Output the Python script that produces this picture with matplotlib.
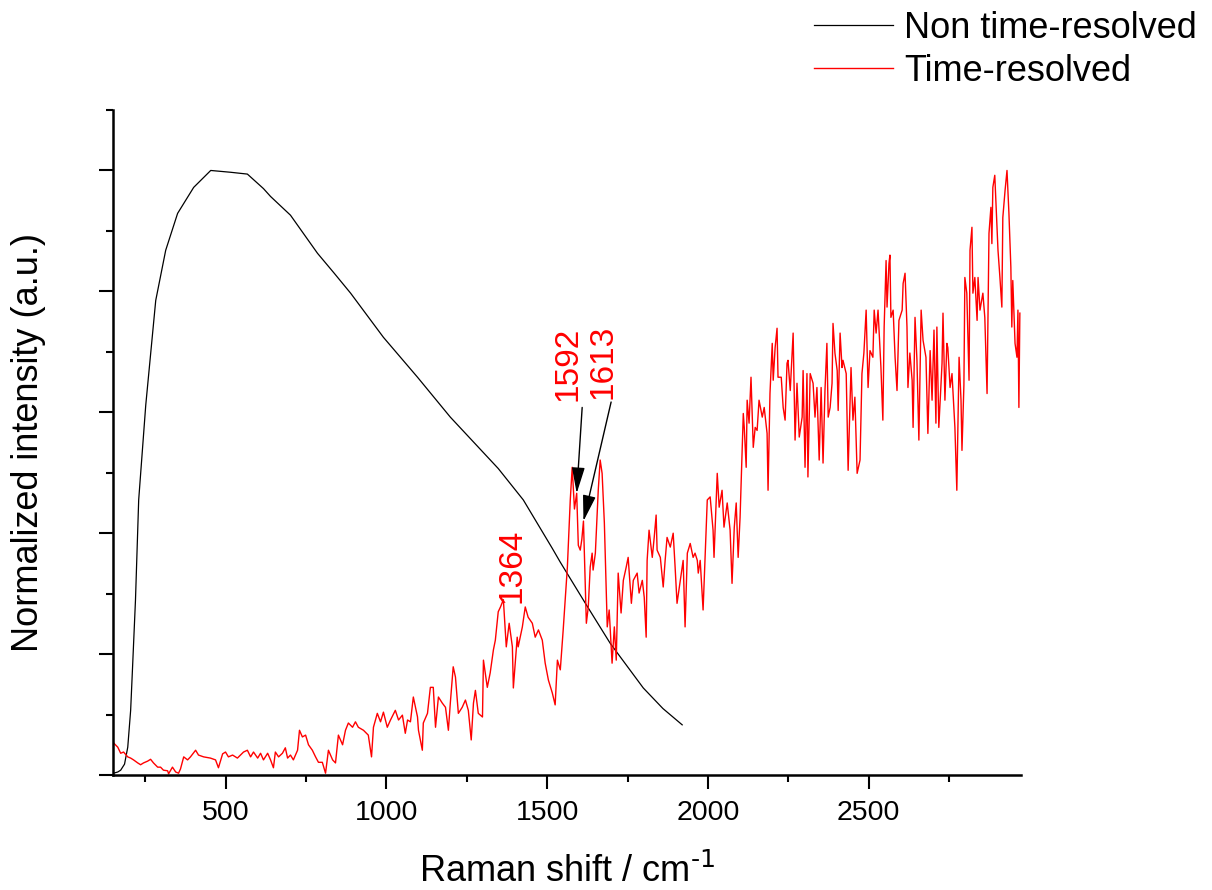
import numpy as np
import matplotlib
matplotlib.use("Agg")
import matplotlib.pyplot as plt
from matplotlib.ticker import MultipleLocator, FixedLocator

plt.rcParams['font.family'] = ['Liberation Sans', 'DejaVu Sans']
plt.rcParams['mathtext.default'] = 'regular'

# Non time-resolved spectrum (normalized)
ntr_shift = [152, 165, 174, 186, 196, 205, 211, 220, 230, 252, 283, 314, 351,
             401, 454, 516, 568, 618, 640, 702, 742, 786, 838, 889, 991, 1097,
             1199, 1348, 1426, 1516, 1541, 1619, 1696, 1799, 1860, 1920]
ntr_intensity = [0.003, 0.005, 0.008, 0.018, 0.046, 0.107, 0.179, 0.289, 0.455,
                 0.612, 0.785, 0.868, 0.929, 0.972, 1.000, 0.997, 0.994, 0.970,
                 0.957, 0.926, 0.896, 0.863, 0.830, 0.797, 0.724, 0.658, 0.592,
                 0.507, 0.455, 0.375, 0.352, 0.284, 0.218, 0.144, 0.110, 0.083]

# Time-resolved spectrum (normalized)
tr_shift = [
    152, 165, 174, 183, 196, 205, 214, 227, 236, 245, 258, 267, 276, 289, 298,
    307, 320, 323, 335, 345, 354, 360, 370, 382, 391, 407, 416, 432, 453, 469,
    478, 491, 500, 509, 522, 537, 556, 568, 578, 587, 600, 609, 618, 631, 640,
    649, 655, 665, 677, 686, 693, 702, 711, 724, 730, 739, 749, 758, 770, 780,
    789, 801, 811, 820, 833, 842, 851, 864, 873, 882, 895, 904, 913, 929, 944,
    954, 960, 972, 982, 991, 1003, 1013, 1028, 1038,
    1050, 1059, 1066, 1075, 1084, 1097, 1100, 1112, 1115, 1128, 1137, 1146,
    1153, 1162, 1174, 1184, 1193, 1199, 1208, 1215, 1224, 1236, 1246, 1255,
    1264, 1271, 1277, 1286, 1299, 1302, 1314, 1323, 1333, 1339, 1348, 1355,
    1364, 1373, 1382, 1392, 1395, 1407, 1410, 1423, 1432, 1441, 1454, 1463,
    1473, 1485, 1494, 1504, 1516, 1525, 1532,
    1541, 1550, 1563, 1572, 1578, 1585, 1592, 1597, 1603, 1608, 1613, 1617,
    1622, 1628, 1634, 1640, 1643, 1650, 1656, 1659, 1665, 1671, 1678, 1687,
    1693, 1702, 1709, 1715, 1721, 1730, 1737, 1746, 1752, 1762, 1768, 1780,
    1786, 1796, 1802, 1808, 1811, 1817, 1827, 1833, 1839, 1842, 1852, 1861,
    1867, 1873, 1883, 1892, 1898, 1904, 1914, 1923, 1929, 1936, 1945, 1954,
    1960, 1967, 1970, 1976, 1985, 1991, 1998, 2007, 2016, 2019, 2029, 2035,
    2044, 2050, 2060, 2069, 2075, 2082, 2088, 2094,
    2100, 2110, 2113, 2119, 2122, 2128, 2134, 2141, 2147, 2153, 2159, 2169,
    2175, 2184, 2187, 2193, 2200, 2203, 2209, 2215, 2218, 2228, 2234, 2240,
    2246, 2249, 2256, 2265, 2271, 2277, 2284, 2293, 2296, 2302, 2308, 2311,
    2318, 2327, 2333, 2339, 2346, 2352, 2358, 2364, 2370, 2374, 2380, 2386,
    2389, 2395, 2402, 2405, 2411, 2417, 2420, 2430, 2436, 2445, 2451, 2457,
    2464,
    2473, 2479, 2485, 2492, 2498, 2504, 2513, 2517, 2523, 2529, 2538, 2544,
    2548, 2554, 2557, 2563, 2566, 2569, 2576, 2582, 2588, 2594, 2604, 2607,
    2613, 2619, 2622, 2628, 2635, 2638, 2644, 2650, 2656, 2663, 2669, 2678,
    2684, 2691, 2697, 2703, 2709, 2712, 2718, 2728, 2731, 2737, 2743, 2746,
    2753, 2759, 2768, 2774, 2781, 2787, 2790, 2796, 2799, 2805, 2812, 2815,
    2821, 2824, 2830, 2837, 2840, 2846, 2855, 2861, 2868, 2874, 2880, 2883,
    2886, 2892, 2899, 2902, 2908, 2914, 2917, 2924, 2930, 2936, 2942, 2945,
    2948, 2955, 2961, 2964, 2967, 2970]
tr_intensity = [
    0.053, 0.046, 0.036, 0.038, 0.030, 0.028, 0.025, 0.020, 0.017, 0.020, 0.023,
    0.026, 0.020, 0.013, 0.013, 0.008, 0.007, 0.002, 0.013, 0.005, 0.003, 0.010,
    0.030, 0.025, 0.030, 0.041, 0.033, 0.030, 0.028, 0.025, 0.012, 0.035, 0.038,
    0.030, 0.033, 0.028, 0.038, 0.041, 0.030, 0.038, 0.028, 0.036, 0.025, 0.036,
    0.025, 0.012, 0.038, 0.030, 0.036, 0.045, 0.028, 0.033, 0.025, 0.041, 0.074,
    0.063, 0.066, 0.050, 0.041, 0.030, 0.021, 0.021, 0.003, 0.041, 0.025, 0.020,
    0.066, 0.050, 0.074, 0.086, 0.079, 0.088, 0.079, 0.074, 0.066, 0.030, 0.079,
    0.102, 0.088, 0.104, 0.079, 0.091, 0.107, 0.091,
    0.099, 0.069, 0.091, 0.088, 0.129, 0.096, 0.074, 0.041, 0.086, 0.102, 0.145,
    0.145, 0.079, 0.129, 0.119, 0.112, 0.074, 0.119, 0.179, 0.162, 0.102, 0.112,
    0.124, 0.107, 0.058, 0.119, 0.140, 0.102, 0.096, 0.190, 0.145, 0.169, 0.207,
    0.223, 0.270, 0.278, 0.290, 0.212, 0.251, 0.212, 0.144, 0.228, 0.212, 0.245,
    0.278, 0.261, 0.251, 0.228, 0.240, 0.223, 0.185, 0.157, 0.136, 0.116, 0.190,
    0.174, 0.240, 0.344, 0.455, 0.509, 0.440, 0.466, 0.380, 0.372, 0.390, 0.420,
    0.344, 0.251, 0.278, 0.344, 0.367, 0.339, 0.367, 0.438, 0.471, 0.521, 0.499,
    0.417, 0.245, 0.273, 0.185, 0.245, 0.190, 0.334, 0.268, 0.322, 0.344, 0.360,
    0.284, 0.322, 0.334, 0.301, 0.322, 0.294, 0.228, 0.355, 0.405, 0.360, 0.393,
    0.430, 0.372, 0.360, 0.311, 0.355, 0.393, 0.377, 0.400, 0.344, 0.284, 0.322,
    0.355, 0.245, 0.367, 0.383, 0.360, 0.367, 0.355, 0.334, 0.355, 0.273, 0.355,
    0.455, 0.460, 0.405, 0.360, 0.499, 0.443, 0.471, 0.410, 0.450, 0.405, 0.317,
    0.410, 0.450, 0.360,
    0.426, 0.598, 0.575, 0.509, 0.620, 0.582, 0.658, 0.542, 0.575, 0.570, 0.620,
    0.592, 0.608, 0.565, 0.471, 0.631, 0.714, 0.653, 0.707, 0.739, 0.658, 0.658,
    0.608, 0.587, 0.681, 0.686, 0.636, 0.731, 0.554, 0.648, 0.559, 0.592, 0.669,
    0.509, 0.664, 0.493, 0.664, 0.648, 0.592, 0.641, 0.521, 0.641, 0.516, 0.636,
    0.714, 0.592, 0.608, 0.648, 0.747, 0.698, 0.669, 0.603, 0.731, 0.674, 0.686,
    0.664, 0.504, 0.674, 0.587, 0.625, 0.499,
    0.521, 0.664, 0.698, 0.769, 0.641, 0.702, 0.691, 0.769, 0.731, 0.769, 0.674,
    0.587, 0.741, 0.851, 0.774, 0.846, 0.860, 0.757, 0.769, 0.691, 0.636, 0.752,
    0.769, 0.813, 0.830, 0.741, 0.641, 0.698, 0.653, 0.575, 0.757, 0.686, 0.554,
    0.769, 0.719, 0.691, 0.565, 0.702, 0.620, 0.736, 0.582, 0.741, 0.575, 0.681,
    0.764, 0.620, 0.714, 0.707, 0.641, 0.664, 0.575, 0.471, 0.691, 0.620, 0.537,
    0.645, 0.823, 0.797, 0.653, 0.868, 0.906, 0.797, 0.823, 0.752, 0.823, 0.769,
    0.797, 0.757, 0.631, 0.896, 0.939, 0.879, 0.972, 0.992, 0.906, 0.868, 0.823,
    0.774, 0.922, 0.967, 1.000, 0.929, 0.840, 0.741, 0.818, 0.714, 0.691, 0.769,
    0.608, 0.764]

x_major_ticks = [500, 1000, 1500, 2000, 2500]
series_labels = ['Non time-resolved', 'Time-resolved']
peak_1364, peak_1592, peak_1613 = 1364, 1592, 1613

RED = '#ff0000'

fig = plt.figure(figsize=(12.12, 8.90), dpi=100)
ax = fig.add_axes([0.0932, 0.1292, 0.7488, 0.7472])

ax.plot(ntr_shift, ntr_intensity, color='black', lw=0.9, label=series_labels[0])
ax.plot(tr_shift, tr_intensity, color=RED, lw=1.0, label=series_labels[1])

ax.set_xlim(150, 2972)
ax.set_ylim(0, 1.1)

for side in ('top', 'right'):
    ax.spines[side].set_visible(False)
for side in ('left', 'bottom'):
    ax.spines[side].set_linewidth(1.8)

ax.set_xticks(x_major_ticks)
ax.xaxis.set_minor_locator(MultipleLocator(250))
ax.yaxis.set_major_locator(FixedLocator(np.arange(0, 1.01, 0.2)))
ax.yaxis.set_minor_locator(FixedLocator(np.arange(0.1, 1.15, 0.2)))
ax.set_yticklabels([])
ax.tick_params(which='major', direction='out', length=10, width=1.5,
               labelsize=20.5, pad=8)
ax.tick_params(which='minor', direction='out', length=5, width=1.5)

ax.set_xlabel(r'Raman shift / cm$^{\text{-1}}$', fontsize=26, labelpad=20)
ax.set_ylabel('Normalized intensity (a.u.)', fontsize=26, labelpad=30)

# Peak labels
y1364 = np.interp(peak_1364, tr_shift, tr_intensity)
y1592 = np.interp(peak_1592, tr_shift, tr_intensity)
y1613 = np.interp(peak_1613, tr_shift, tr_intensity)

ax.text(1390, y1364 - 0.005, str(peak_1364), rotation=90, color=RED,
        fontsize=24, ha='center', va='bottom')
ax.text(1565, 0.618, str(peak_1592), rotation=90, color=RED,
        fontsize=24, ha='center', va='bottom')
ax.text(1673, 0.622, str(peak_1613), rotation=90, color=RED,
        fontsize=24, ha='center', va='bottom')

arrow_style = dict(arrowstyle='-|>,head_length=0.8,head_width=0.2',
                   color='black', lw=1.0, mutation_scale=20,
                   shrinkA=0, shrinkB=0)
ax.annotate('', xy=(peak_1592, y1592), xytext=(1609, 0.608),
            arrowprops=arrow_style)
ax.annotate('', xy=(peak_1613, y1613), xytext=(1699, 0.617),
            arrowprops=arrow_style)

leg = ax.legend(loc='upper right', bbox_to_anchor=(1197 / 1212, 1 - 11 / 890),
                bbox_transform=fig.transFigure, frameon=False, fontsize=26,
                handlelength=2.2, handletextpad=0.3, labelspacing=0.22,
                borderpad=0, borderaxespad=0)

fig.savefig('out.png', dpi=100)
